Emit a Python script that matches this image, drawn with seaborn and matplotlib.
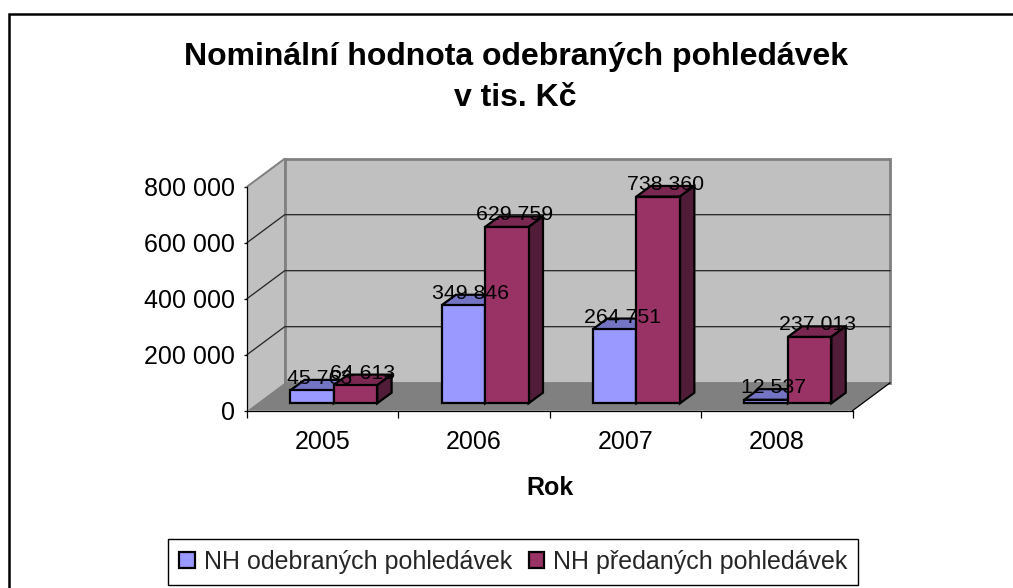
import numpy as np
import pandas as pd
import matplotlib
matplotlib.use("Agg")
import matplotlib.pyplot as plt
from matplotlib.patches import Polygon
from matplotlib.lines import Line2D
from matplotlib.transforms import Affine2D, IdentityTransform
import seaborn as sns

years = ["2005", "2006", "2007", "2008"]
taken = [45763, 349846, 264751, 12537]
handed = [64613, 629759, 738360, 237013]
series_names = ["NH odebraných pohledávek", "NH předaných pohledávek"]
y_ticks = [0, 200000, 400000, 600000, 800000]
y_tick_labels = ["0", "200 000", "400 000", "600 000", "800 000"]
data_labels = [["45 763", "349 846", "264 751", "12 537"],
               ["64 613", "629 759", "738 360", "237 013"]]

W, H = 1013, 588
sns.set_style("white")
plt.rcParams["font.family"] = ["Liberation Sans", "DejaVu Sans"]

fig = plt.figure(figsize=(W / 100, H / 100), dpi=100, facecolor="white")
ax = fig.add_axes([247 / W, (H - 410.7) / H, 605.5 / W, 224 / H])
ax.patch.set_visible(False)

df = pd.DataFrame({
    "Rok": years * 2,
    "Hodnota": taken + handed,
    "Rada": [series_names[0]] * 4 + [series_names[1]] * 4,
})
front = ["#9999FF", "#993366"]
top = ["#7474C4", "#7A2852"]
side = ["#5A5A99", "#501C38"]
sns.barplot(df, x="Rok", y="Hodnota", hue="Rada", hue_order=series_names,
            palette=front, saturation=1, width=0.575, gap=0,
            edgecolor="black", linewidth=1.6, ax=ax, zorder=5)
handles, labels = ax.get_legend_handles_labels()
ax.legend_.remove()
ax.set_xlim(-0.5, 3.5)
ax.set_ylim(0, 800000)

ident = IdentityTransform()
px = lambda x, y: ax.transData.transform((x, y))
WALL_D = np.array([37.7, 28.0])
BAR_O = np.array([11.0, 7.4])
BAR_D = np.array([14.4, 10.6])


def poly(points, fc, ec="none", lw=0.0, z=1):
    ax.add_patch(Polygon(points, closed=True, facecolor=fc, edgecolor=ec, linewidth=lw,
                         transform=ident, clip_on=False, zorder=z, joinstyle="miter"))


# walls and floor, derived from the axes scales
x0, x1 = ax.get_xlim()
ymax = y_ticks[-1]
fl, fr, tl, tr = px(x0, 0), px(x1, 0), px(x0, ymax), px(x1, ymax)
poly([fl + WALL_D, fr + WALL_D, tr + WALL_D, tl + WALL_D], "#C0C0C0", "#808080", 2.0, 1)
poly([fl, fl + WALL_D, tl + WALL_D, tl], "#C0C0C0", "none", 0, 1)
poly([fl, fr, fr + WALL_D, fl + WALL_D], "#808080", "none", 0, 1.5)
for (a, b) in [(fl + WALL_D, tl + WALL_D), (tl, tl + WALL_D), (fr, fr + WALL_D)]:
    col = "black" if (a == fr).all() else "#808080"
    ax.add_line(Line2D([a[0], b[0]], [a[1], b[1]], color=col, lw=1.4 if col != "black" else 0.9,
                       transform=ident, clip_on=False, zorder=2))
for v in y_ticks[1:-1]:
    p, q = px(x0, v), px(x1, v)
    ax.add_line(Line2D([p[0], p[0] + WALL_D[0], q[0] + WALL_D[0]],
                       [p[1], p[1] + WALL_D[1], q[1] + WALL_D[1]],
                       color="#222222", lw=0.9, transform=ident, clip_on=False, zorder=2))

# 3D faces of the bars
bar_shift = ax.transData + Affine2D().translate(*BAR_O)
for s, container in enumerate(ax.containers):
    for c, rect in enumerate(container):
        rect.set_transform(bar_shift)
        rect.set_zorder(5 + s * 2)
        rect.set_clip_on(False)
        rect.set_joinstyle("miter")
        a, b, h = rect.get_x(), rect.get_x() + rect.get_width(), rect.get_height()
        bl, br, tpl, tpr = (px(a, 0) + BAR_O, px(b, 0) + BAR_O,
                            px(a, h) + BAR_O, px(b, h) + BAR_O)
        poly([tpl, tpr, tpr + BAR_D, tpl + BAR_D], top[s], "black", 1.6, 4 + s * 2)
        poly([br, tpr, tpr + BAR_D, br + BAR_D], side[s], "black", 1.6, 4 + s * 2)
        ax.annotate(data_labels[s][c], xy=(rect.get_x() + rect.get_width() / 2, h),
                    xytext=(18.5 * 0.72, 19.5 * 0.72), textcoords="offset points",
                    ha="center", va="center", fontsize=15.3, color="black",
                    zorder=20, annotation_clip=False)

# axes
for name in ("top", "right"):
    ax.spines[name].set_visible(False)
for name in ("left", "bottom"):
    ax.spines[name].set_visible(True)
    ax.spines[name].set_color("black")
    ax.spines[name].set_linewidth(0.9)
    ax.spines[name].set_zorder(3)
ax.set_yticks(y_ticks, y_tick_labels)
ax.set_xticks(range(len(years)), years)
ax.set_xticks(np.arange(-0.5, 4.0, 1.0), minor=True)
ax.tick_params(axis="y", left=True, length=2, width=0.9, pad=6.5, labelsize=18, color="black", labelcolor="black")
ax.tick_params(axis="x", which="major", bottom=False, length=0, pad=14, labelsize=18, labelcolor="black")
ax.tick_params(axis="x", which="minor", bottom=True, length=5, width=0.9, color="black")
ax.set_xlabel("Rok", fontsize=18, fontweight="bold", color="black", labelpad=16)
ax.set_ylabel("")

# title
fig.text(515.5 / W, (H - 41.5) / H, "Nominální hodnota odebraných pohledávek\nv tis. Kč",
         ha="center", va="top", fontsize=23, fontweight="bold", color="black",
         linespacing=1.5)

# legend
leg = fig.legend(handles, labels, loc="lower left",
                 bbox_to_anchor=(168.3 / W, (H - 584.7) / H), bbox_transform=fig.transFigure,
                 ncols=2, frameon=True, fancybox=False, edgecolor="black", framealpha=1,
                 fontsize=18, handlelength=0.62, handleheight=0.57, handletextpad=0.36,
                 columnspacing=0.68, borderpad=0.43, borderaxespad=0)
leg.get_frame().set_linewidth(1.0)

# chart-area border visible on the left and top
fig.add_artist(Line2D([8.5, 8.5, W + 5], [-5, H - 13.5, H - 13.5], color="black", lw=1.8,
                      transform=ident, solid_joinstyle="miter"))

fig.savefig("out.png", dpi=100, facecolor="white")
